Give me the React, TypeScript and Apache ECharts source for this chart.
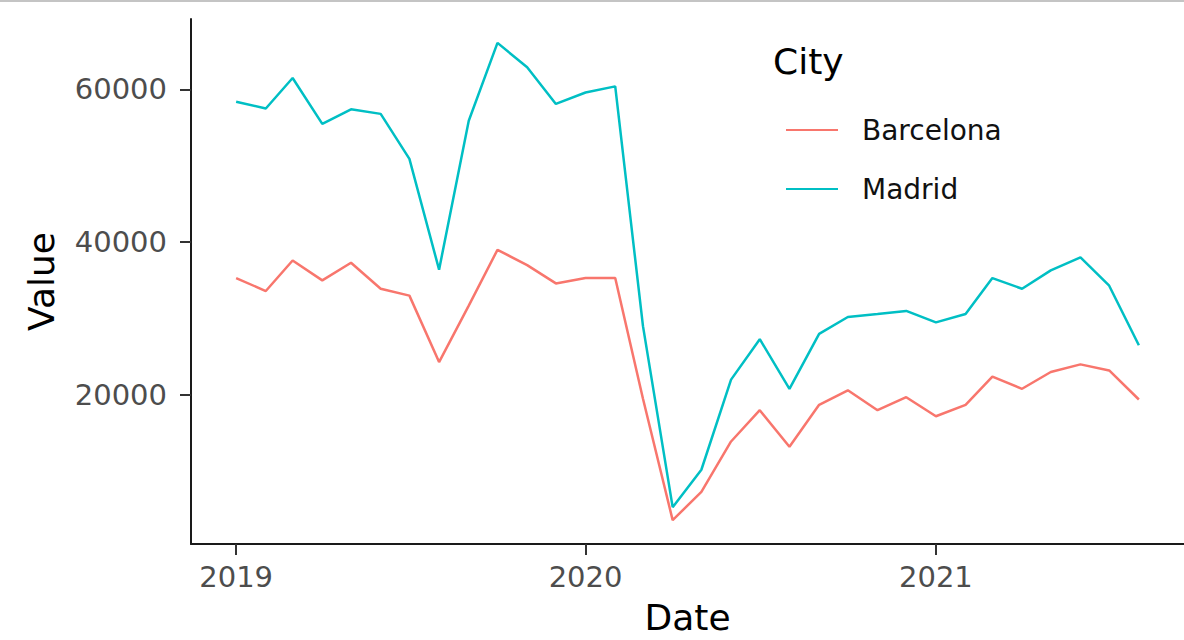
import React, { useEffect, useRef } from "react";
import * as echarts from "echarts";

const months = [
  "2019-01", "2019-02", "2019-03", "2019-04", "2019-05", "2019-06",
  "2019-07", "2019-08", "2019-09", "2019-10", "2019-11", "2019-12",
  "2020-01", "2020-02", "2020-03", "2020-04", "2020-05", "2020-06",
  "2020-07", "2020-08", "2020-09", "2020-10", "2020-11", "2020-12",
  "2021-01", "2021-02", "2021-03", "2021-04", "2021-05", "2021-06",
  "2021-07", "2021-08",
];

const barcelona = [
  35300, 33600, 37600, 35000, 37300, 33900, 33000, 24300, 31700, 39000, 37000, 34600,
  35300, 35300, 19500, 3600, 7300, 13900, 18000, 13200, 18700, 20600, 18000, 19700,
  17200, 18700, 22400, 20800, 23000, 24000, 23200, 19400,
];

const madrid = [
  58400, 57500, 61500, 55500, 57400, 56800, 50900, 36400, 55900, 66100, 62900, 58100,
  59600, 60400, 29000, 5300, 10200, 22000, 27300, 20800, 28000, 30200, 30600, 31000,
  29500, 30600, 35300, 33900, 36300, 38000, 34300, 26500,
];

const yearTicks = ["2019-01", "2020-01", "2021-01"];
const valueTicks = [20000, 40000, 60000];

const cities = ["Barcelona", "Madrid"];
const colors = ["#F8766D", "#00BFC4"];

const FONT = "DejaVu Sans";

const toMs = (m: string) => Date.UTC(Number(m.slice(0, 4)), Number(m.slice(5, 7)) - 1, 1);

export default function App() {
  const ref = useRef<HTMLDivElement>(null);

  useEffect(() => {
    if (!ref.current) return;
    const chart = echarts.init(ref.current, undefined, { renderer: "svg" });

    const xs = months.map(toMs);
    const xMin0 = Math.min(...xs);
    const xMax0 = Math.max(...xs);
    const xPad = (xMax0 - xMin0) * 0.05;
    const allVals = [...barcelona, ...madrid];
    const yMin0 = Math.min(...allVals);
    const yMax0 = Math.max(...allVals);
    const yPad = (yMax0 - yMin0) * 0.05;

    const seriesData = [barcelona, madrid];

    chart.setOption({
      animation: false,
      backgroundColor: "#ffffff",
      title: {
        text: "City",
        left: 773,
        top: 43,
        padding: 0,
        textStyle: { fontFamily: FONT, fontSize: 36, fontWeight: "normal", color: "#000000", lineHeight: 36 },
      },
      legend: {
        data: cities,
        orient: "vertical",
        left: 781,
        top: 111,
        itemGap: 31,
        itemWidth: 52,
        itemHeight: 2,
        icon: "rect",
        textStyle: {
          fontFamily: FONT,
          fontSize: 28,
          lineHeight: 28,
          color: "#111111",
          padding: [0, 0, 0, 19],
        },
      },
      graphic: [
        {
          type: "rect",
          left: 0,
          top: 0,
          shape: { width: 1184, height: 2 },
          style: { fill: "#c4c4c4" },
        },
      ],
      grid: { left: 191, right: -4, top: 19, bottom: 88, containLabel: false },
      xAxis: {
        type: "value",
        min: xMin0 - xPad,
        max: xMax0 + xPad,
        name: "Date",
        nameLocation: "middle",
        nameGap: 55,
        nameTextStyle: { fontFamily: FONT, fontSize: 36, color: "#000000", lineHeight: 36 },
        axisLine: { show: true, onZero: false, lineStyle: { color: "#1a1a1a", width: 2 } },
        axisTick: {
          show: true,
          length: 11,
          customValues: yearTicks.map(toMs),
          lineStyle: { color: "#333333", width: 2 },
        },
        axisLabel: {
          customValues: yearTicks.map(toMs),
          formatter: (v: number) => String(new Date(v).getUTCFullYear()),
          margin: 18,
          fontFamily: FONT,
          fontSize: 29,
          lineHeight: 29,
          color: "#4d4d4d",
        },
        splitLine: { show: false },
      },
      yAxis: {
        type: "value",
        min: yMin0 - yPad,
        max: yMax0 + yPad,
        name: "Value",
        nameLocation: "middle",
        nameRotate: 90,
        nameGap: 132,
        nameTextStyle: { fontFamily: FONT, fontSize: 36, color: "#000000", lineHeight: 36 },
        axisLine: { show: true, onZero: false, lineStyle: { color: "#1a1a1a", width: 2 } },
        axisTick: {
          show: true,
          length: 11,
          customValues: valueTicks,
          lineStyle: { color: "#333333", width: 2 },
        },
        axisLabel: {
          customValues: valueTicks,
          formatter: (v: number) => String(v),
          margin: 24,
          fontFamily: FONT,
          fontSize: 29,
          color: "#4d4d4d",
        },
        splitLine: { show: false },
      },
      series: cities.map((c, k) => ({
        name: c,
        type: "line",
        data: months.map((m, i) => [toMs(m), seriesData[k][i]]),
        showSymbol: false,
        symbol: "none",
        color: colors[k],
        lineStyle: { color: colors[k], width: 2.5 },
        emphasis: { disabled: true },
      })),
    });

    return () => chart.dispose();
  }, []);

  return (
    <div
      ref={ref}
      style={{ position: "fixed", left: 0, top: 0, width: 1184, height: 640, background: "#fff" }}
    />
  );
}
